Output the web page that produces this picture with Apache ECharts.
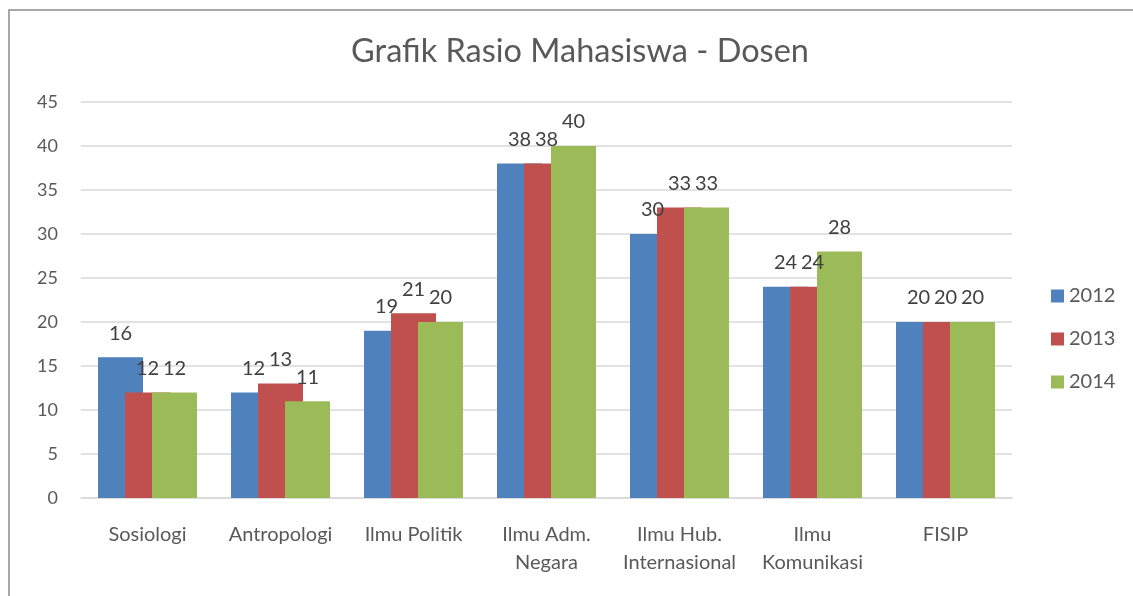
<!DOCTYPE html>
<html>
<head>
<meta charset="utf-8">
<title>Grafik Rasio Mahasiswa - Dosen</title>
<script src="https://cdn.jsdelivr.net/npm/echarts@6/dist/echarts.min.js"></script>
<style>
  html, body { margin: 0; padding: 0; background: #fff; }
  #chart { width: 1133px; height: 596px; }
</style>
</head>
<body>
<div id="chart"></div>
<script>
// data
const categories = [
  'Sosiologi', 'Antropologi', 'Ilmu Politik', 'Ilmu Adm.\nNegara',
  'Ilmu Hub.\nInternasional', 'Ilmu\nKomunikasi', 'FISIP'
];
const years = ['2012', '2013', '2014'];
const values2012 = [16, 12, 19, 38, 30, 24, 20];
const values2013 = [12, 13, 21, 38, 33, 24, 20];
const values2014 = [12, 11, 20, 40, 33, 28, 20];
const yTicks = { min: 0, max: 45, interval: 5 };

const colors = ['#4F81BD', '#C0504D', '#9BBB59'];
const FONT = 'Lato';

function barSeries(name, data, color) {
  return {
    name: name,
    type: 'bar',
    data: data,
    barWidth: 45,
    barGap: '-40%',
    itemStyle: { color: color },
    label: {
      show: true,
      position: 'top',
      distance: 14,
      color: '#404040',
      fontSize: 20,
      fontFamily: FONT
    },
    emphasis: { disabled: true }
  };
}

const chart = echarts.init(document.getElementById('chart'));
chart.setOption({
  animation: false,
  color: colors,
  title: {
    text: 'Grafik Rasio Mahasiswa - Dosen',
    left: 575,
    textAlign: 'center',
    top: 30,
    textStyle: { fontFamily: FONT, fontSize: 32.5, fontWeight: 'normal', color: '#595959' }
  },
  graphic: [{
    type: 'rect',
    silent: true,
    shape: { x: 9, y: 10, width: 1300, height: 800 },
    style: { fill: 'none', stroke: '#8a8a8a', lineWidth: 1.5 }
  }],
  legend: {
    orient: 'vertical',
    left: 1046,
    top: 281,
    itemWidth: 13,
    itemHeight: 13,
    itemGap: 23,
    icon: 'rect',
    data: years,
    textStyle: { fontFamily: FONT, fontSize: 20, color: '#595959', lineHeight: 20 }
  },
  grid: { left: 81, right: 121, top: 102, bottom: 98 },
  xAxis: {
    type: 'category',
    data: categories,
    axisLine: { lineStyle: { color: '#d9d9d9', width: 1.5 } },
    axisTick: { show: false },
    axisLabel: {
      interval: 0,
      margin: 23,
      fontFamily: FONT,
      fontSize: 20,
      lineHeight: 28,
      color: '#595959'
    }
  },
  yAxis: {
    type: 'value',
    min: yTicks.min,
    max: yTicks.max,
    interval: yTicks.interval,
    axisLine: { show: false },
    axisTick: { show: false },
    splitLine: { lineStyle: { color: '#d9d9d9', width: 1.5 } },
    axisLabel: { margin: 23, fontFamily: FONT, fontSize: 18, color: '#595959' }
  },
  series: [
    barSeries(years[0], values2012, colors[0]),
    barSeries(years[1], values2013, colors[1]),
    barSeries(years[2], values2014, colors[2])
  ]
});
</script>
</body>
</html>
